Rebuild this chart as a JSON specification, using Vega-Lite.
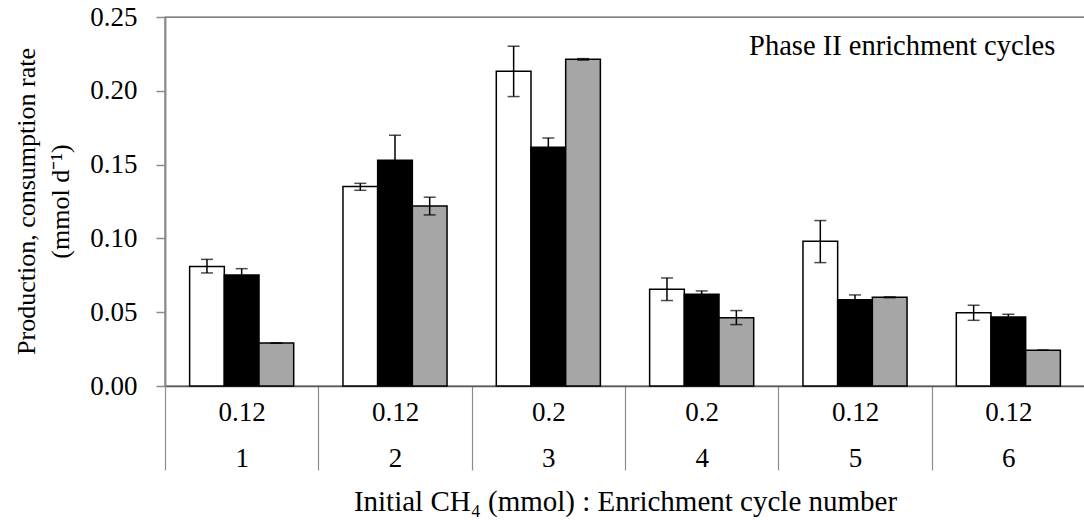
{
  "$schema": "https://vega.github.io/schema/vega-lite/v6.json",
  "width": 920,
  "height": 369,
  "autosize": {"type": "none"},
  "padding": {"left": 165, "top": 17, "right": 0, "bottom": 140},
  "background": "white",
  "config": {
    "font": "Liberation Serif",
    "axis": {"labelFont": "Liberation Serif", "titleFont": "Liberation Serif"},
    "text": {"font": "Liberation Serif"},
    "view": {"stroke": "#595959", "strokeWidth": 1.3}
  },
  "data": {
    "values": [
      {"group": "0.12:1", "series": "Series 1", "value": 0.081, "lo": 0.0766, "hi": 0.0858},
      {"group": "0.12:1", "series": "Series 2", "value": 0.0752, "lo": 0.0709, "hi": 0.0795},
      {"group": "0.12:1", "series": "Series 3", "value": 0.0291, "lo": 0.0291, "hi": 0.0291},
      {"group": "0.12:2", "series": "Series 1", "value": 0.1351, "lo": 0.1326, "hi": 0.1373},
      {"group": "0.12:2", "series": "Series 2", "value": 0.1529, "lo": 0.1359, "hi": 0.1699},
      {"group": "0.12:2", "series": "Series 3", "value": 0.122, "lo": 0.1159, "hi": 0.1279},
      {"group": "0.2:3", "series": "Series 1", "value": 0.2132, "lo": 0.1961, "hi": 0.2302},
      {"group": "0.2:3", "series": "Series 2", "value": 0.1617, "lo": 0.1554, "hi": 0.168},
      {"group": "0.2:3", "series": "Series 3", "value": 0.2213, "lo": 0.2208, "hi": 0.2218},
      {"group": "0.2:4", "series": "Series 1", "value": 0.0655, "lo": 0.0579, "hi": 0.0732},
      {"group": "0.2:4", "series": "Series 2", "value": 0.0621, "lo": 0.0598, "hi": 0.0644},
      {"group": "0.2:4", "series": "Series 3", "value": 0.0463, "lo": 0.0416, "hi": 0.0511},
      {"group": "0.12:5", "series": "Series 1", "value": 0.098, "lo": 0.0836, "hi": 0.1121},
      {"group": "0.12:5", "series": "Series 2", "value": 0.0585, "lo": 0.0553, "hi": 0.0617},
      {"group": "0.12:5", "series": "Series 3", "value": 0.0601, "lo": 0.0598, "hi": 0.0604},
      {"group": "0.12:6", "series": "Series 1", "value": 0.0497, "lo": 0.0445, "hi": 0.0547},
      {"group": "0.12:6", "series": "Series 2", "value": 0.0468, "lo": 0.045, "hi": 0.0486},
      {"group": "0.12:6", "series": "Series 3", "value": 0.0242, "lo": 0.0242, "hi": 0.0242}
    ]
  },
  "encoding": {
    "x": {
      "field": "group",
      "type": "nominal",
      "sort": null,
      "scale": {"paddingInner": 0, "paddingOuter": 0},
      "axis": {
        "title": "Initial CH₄ (mmol) : Enrichment cycle number",
        "labelExpr": "isString(datum.value) ? split(datum.value, ':') : ''",
        "labelAngle": 0,
        "labelFontSize": 27,
        "labelLineHeight": 46,
        "labelPadding": -71,
        "labelColor": "black",
        "tickBand": "extent",
        "tickSize": 84,
        "tickColor": "#8c8c8c",
        "tickWidth": 1.2,
        "domainColor": "#595959",
        "domainWidth": 1.5,
        "titleFontSize": 29,
        "titleFontWeight": "normal",
        "titleColor": "black",
        "titleBaseline": "alphabetic",
        "titleY": 124
      }
    }
  },
  "layer": [
    {
      "mark": {"type": "bar", "stroke": "black", "strokeWidth": 1.5},
      "encoding": {
        "xOffset": {"field": "series", "type": "nominal", "sort": null, "scale": {"paddingInner": 0, "paddingOuter": 0.71}},
        "y": {
          "field": "value",
          "type": "quantitative",
          "scale": {"domain": [0, 0.25], "nice": false},
          "axis": {
            "title": ["Production, consumption rate", "(mmol d⁻¹)"],
            "values": [0, 0.05, 0.1, 0.15, 0.2, 0.25],
            "format": ".2f",
            "grid": false,
            "labelFontSize": 27,
            "labelColor": "black",
            "labelPadding": 19,
            "tickSize": 9,
            "tickColor": "#8c8c8c",
            "tickWidth": 1.5,
            "domainColor": "#8c8c8c",
            "domainWidth": 2,
            "titleFontSize": 26,
            "titleFontWeight": "normal",
            "titleColor": "black",
            "titleAngle": -90,
            "titleAlign": "center",
            "titleBaseline": "alphabetic",
            "titleLineHeight": 34,
            "titleX": -131,
            "titleY": 184
          }
        },
        "fill": {
          "field": "series",
          "type": "nominal",
          "scale": {"domain": ["Series 1", "Series 2", "Series 3"], "range": ["#ffffff", "#000000", "#a6a6a6"]},
          "legend": null
        }
      }
    },
    {
      "mark": {"type": "rule", "color": "black", "strokeWidth": 1.5},
      "encoding": {
        "xOffset": {"field": "series", "type": "nominal", "sort": null, "scale": {"paddingInner": 0, "paddingOuter": 0.71}},
        "y": {"field": "lo", "type": "quantitative"},
        "y2": {"field": "hi"}
      }
    },
    {
      "mark": {"type": "tick", "color": "black", "size": 12, "thickness": 1.5},
      "encoding": {
        "xOffset": {"field": "series", "type": "nominal", "sort": null, "scale": {"paddingInner": 0, "paddingOuter": 0.71}},
        "y": {"field": "lo", "type": "quantitative"}
      }
    },
    {
      "mark": {"type": "tick", "color": "black", "size": 12, "thickness": 1.5},
      "encoding": {
        "xOffset": {"field": "series", "type": "nominal", "sort": null, "scale": {"paddingInner": 0, "paddingOuter": 0.71}},
        "y": {"field": "hi", "type": "quantitative"}
      }
    },
    {
      "data": {"values": [{"note": "Phase II enrichment cycles"}]},
      "mark": {"type": "text", "align": "right", "baseline": "alphabetic", "fontSize": 28.5, "color": "black", "dx": 47, "dy": 38},
      "encoding": {
        "x": {"datum": "0.12:6"},
        "y": {"datum": 0.25},
        "text": {"field": "note"}
      }
    }
  ]
}
